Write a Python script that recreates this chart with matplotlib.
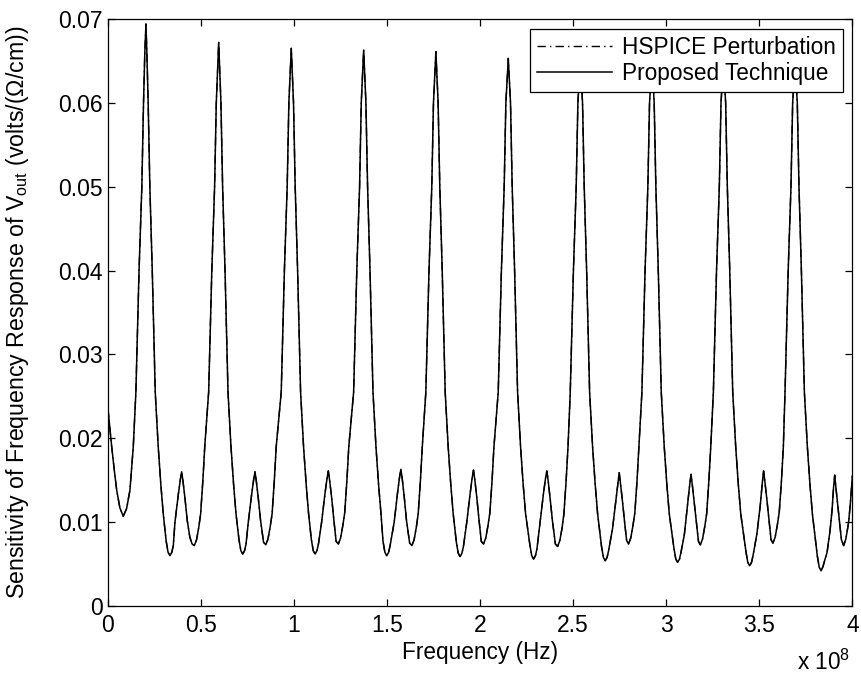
#!/usr/bin/env python3
"""
Sensitivity of frequency response of V_out: HSPICE perturbation vs proposed technique.
Values read off the published figure (frequency in units of 1e8 Hz).
"""
import matplotlib
matplotlib.use("Agg")
import matplotlib.pyplot as plt
from matplotlib.ticker import FuncFormatter, MultipleLocator
import numpy as np

plt.rcParams.update({
    "font.family": ["Liberation Sans", "DejaVu Sans"],
    "mathtext.fontset": "custom",
    "mathtext.rm": "Liberation Sans",
    "font.size": 16.3,
})

# frequency (x 1e8 Hz), sensitivity (volts/(ohm/cm))
freq_e8 = [
    0.000, 0.010, 0.020, 0.035, 0.047, 0.064, 0.082, 0.100, 0.118, 0.136,
    # peak 1
    0.150, 0.167, 0.182, 0.191, 0.198, 0.204, 0.209, 0.216, 0.225, 0.238, 0.254,
    0.270, 0.284, 0.297, 0.313, 0.323, 0.333, 0.343, 0.351, 0.360, 0.378, 0.389,
    0.396, 0.403, 0.414, 0.426, 0.440, 0.452, 0.464, 0.476, 0.488, 0.498, 0.510, 0.520,
    # peak 2
    0.541, 0.558, 0.573, 0.582, 0.595, 0.607, 0.616, 0.629, 0.645,
    0.661, 0.675, 0.688, 0.704, 0.714, 0.724, 0.734, 0.742, 0.754, 0.772, 0.783,
    0.790, 0.797, 0.808, 0.820, 0.836, 0.848, 0.860, 0.872, 0.882, 0.894, 0.904,
    # peak 3
    0.931, 0.948, 0.963, 0.972, 0.985, 0.997, 1.006, 1.019, 1.035,
    1.051, 1.065, 1.078, 1.093, 1.103, 1.113, 1.123, 1.131, 1.148, 1.166, 1.177,
    1.184, 1.191, 1.202, 1.214, 1.226, 1.238, 1.250, 1.262, 1.272, 1.284, 1.294,
    # peak 4
    1.320, 1.337, 1.352, 1.361, 1.374, 1.386, 1.395, 1.408, 1.424,
    1.440, 1.454, 1.467, 1.478, 1.488, 1.498, 1.508, 1.516, 1.538, 1.556, 1.567,
    1.574, 1.581, 1.592, 1.604, 1.621, 1.633, 1.645, 1.657, 1.667, 1.679, 1.689,
    # peak 5
    1.708, 1.725, 1.740, 1.749, 1.762, 1.774, 1.783, 1.796, 1.812,
    1.828, 1.842, 1.855, 1.872, 1.882, 1.892, 1.902, 1.910, 1.928, 1.946, 1.957,
    1.964, 1.971, 1.982, 1.994, 2.006, 2.018, 2.030, 2.042, 2.052, 2.064, 2.074,
    # peak 6
    2.097, 2.114, 2.129, 2.138, 2.151, 2.163, 2.172, 2.185, 2.201,
    2.217, 2.231, 2.244, 2.267, 2.277, 2.287, 2.297, 2.305, 2.322, 2.340, 2.351,
    2.358, 2.365, 2.376, 2.388, 2.404, 2.416, 2.428, 2.440, 2.450, 2.462, 2.472,
    # peak 7
    2.484, 2.501, 2.516, 2.525, 2.538, 2.550, 2.559, 2.572, 2.588,
    2.604, 2.618, 2.631, 2.652, 2.662, 2.672, 2.682, 2.690, 2.711, 2.729, 2.740,
    2.747, 2.754, 2.765, 2.777, 2.787, 2.797, 2.809, 2.821, 2.831, 2.843, 2.853,
    # peak 8
    2.869, 2.886, 2.901, 2.910, 2.923, 2.935, 2.944, 2.957, 2.973,
    2.989, 3.003, 3.016, 3.041, 3.051, 3.061, 3.071, 3.079, 3.097, 3.115, 3.126,
    3.133, 3.140, 3.151, 3.163, 3.173, 3.183, 3.195, 3.207, 3.217, 3.229, 3.239,
    # peak 9
    3.253, 3.270, 3.285, 3.294, 3.307, 3.319, 3.328, 3.341, 3.357,
    3.373, 3.387, 3.400, 3.428, 3.438, 3.448, 3.458, 3.466, 3.487, 3.505, 3.516,
    3.523, 3.530, 3.541, 3.553, 3.563, 3.573, 3.585, 3.597, 3.607, 3.619, 3.629,
    # peak 10
    3.638, 3.655, 3.670, 3.679, 3.692, 3.704, 3.713, 3.726, 3.742,
    3.758, 3.772, 3.785, 3.812, 3.822, 3.832, 3.842, 3.852, 3.864, 3.880, 3.891,
    3.899, 3.905, 3.912, 3.926, 3.941, 3.953, 3.965, 3.980, 3.990, 4.000,
]

sens_proposed = [
    0.0235, 0.0212, 0.0190, 0.0160, 0.0138, 0.0117, 0.0107, 0.0116, 0.0138, 0.0190,
    0.0255, 0.0400, 0.0500, 0.0600, 0.0660, 0.0694, 0.0660, 0.0600, 0.0500, 0.0400, 0.0255,
    0.0190, 0.0145, 0.0110, 0.0077, 0.0064, 0.0060, 0.0064, 0.0072, 0.0100, 0.0133, 0.0151,
    0.0160, 0.0149, 0.0128, 0.0102, 0.0082, 0.0074, 0.0072, 0.0079, 0.0094, 0.0110, 0.0150, 0.0190,
    0.0255, 0.0400, 0.0500, 0.0600, 0.0672, 0.0600, 0.0500, 0.0400, 0.0255,
    0.0190, 0.0145, 0.0110, 0.0079, 0.0066, 0.0062, 0.0066, 0.0074, 0.0100, 0.0133, 0.0151,
    0.0160, 0.0149, 0.0128, 0.0102, 0.0076, 0.0073, 0.0080, 0.0095, 0.0110, 0.0150, 0.0190,
    0.0255, 0.0400, 0.0500, 0.0600, 0.0665, 0.0600, 0.0500, 0.0400, 0.0255,
    0.0190, 0.0145, 0.0110, 0.0079, 0.0066, 0.0062, 0.0066, 0.0074, 0.0100, 0.0134, 0.0152,
    0.0161, 0.0150, 0.0129, 0.0102, 0.0077, 0.0074, 0.0081, 0.0096, 0.0111, 0.0150, 0.0190,
    0.0255, 0.0400, 0.0500, 0.0600, 0.0663, 0.0600, 0.0500, 0.0400, 0.0255,
    0.0190, 0.0145, 0.0110, 0.0077, 0.0064, 0.0060, 0.0064, 0.0072, 0.0100, 0.0135, 0.0154,
    0.0163, 0.0152, 0.0130, 0.0102, 0.0075, 0.0072, 0.0079, 0.0094, 0.0110, 0.0150, 0.0190,
    0.0255, 0.0400, 0.0500, 0.0600, 0.0661, 0.0600, 0.0500, 0.0400, 0.0255,
    0.0190, 0.0145, 0.0110, 0.0076, 0.0063, 0.0059, 0.0063, 0.0071, 0.0100, 0.0134, 0.0153,
    0.0162, 0.0151, 0.0129, 0.0102, 0.0077, 0.0074, 0.0081, 0.0096, 0.0111, 0.0150, 0.0190,
    0.0255, 0.0400, 0.0500, 0.0600, 0.0653, 0.0600, 0.0500, 0.0400, 0.0255,
    0.0190, 0.0145, 0.0110, 0.0073, 0.0060, 0.0056, 0.0060, 0.0068, 0.0100, 0.0134, 0.0152,
    0.0161, 0.0150, 0.0128, 0.0102, 0.0074, 0.0071, 0.0078, 0.0093, 0.0110, 0.0150, 0.0190,
    0.0255, 0.0400, 0.0500, 0.0600, 0.0650, 0.0600, 0.0500, 0.0400, 0.0255,
    0.0190, 0.0145, 0.0110, 0.0071, 0.0058, 0.0054, 0.0058, 0.0066, 0.0092, 0.0125, 0.0146,
    0.0159, 0.0146, 0.0124, 0.0098, 0.0078, 0.0074, 0.0081, 0.0096, 0.0111, 0.0150, 0.0190,
    0.0255, 0.0400, 0.0500, 0.0600, 0.0648, 0.0600, 0.0500, 0.0400, 0.0255,
    0.0190, 0.0145, 0.0110, 0.0069, 0.0056, 0.0052, 0.0056, 0.0064, 0.0085, 0.0122, 0.0145,
    0.0157, 0.0144, 0.0122, 0.0098, 0.0077, 0.0073, 0.0080, 0.0095, 0.0110, 0.0150, 0.0190,
    0.0255, 0.0400, 0.0500, 0.0600, 0.0646, 0.0600, 0.0500, 0.0400, 0.0255,
    0.0190, 0.0145, 0.0110, 0.0065, 0.0052, 0.0048, 0.0052, 0.0060, 0.0086, 0.0120, 0.0147,
    0.0161, 0.0148, 0.0126, 0.0100, 0.0079, 0.0075, 0.0082, 0.0097, 0.0112, 0.0150, 0.0190,
    0.0255, 0.0400, 0.0500, 0.0600, 0.0645, 0.0600, 0.0500, 0.0400, 0.0255,
    0.0190, 0.0145, 0.0110, 0.0059, 0.0046, 0.0042, 0.0047, 0.0055, 0.0064, 0.0090, 0.0115,
    0.0142, 0.0156, 0.0140, 0.0110, 0.0079, 0.0072, 0.0080, 0.0100, 0.0125, 0.0155,
]

# HSPICE perturbation lies on top of the proposed curve everywhere
sens_hspice = list(sens_proposed)

x_hz = np.array(freq_e8) * 1e8

fig = plt.figure(figsize=(8.61, 6.78), dpi=100)
ax = fig.add_axes([0.1254, 0.1062, 0.8646, 0.8658])

ax.plot(x_hz, sens_hspice, color="k", lw=1.0, ls=(0, (6, 3, 1, 3)),
        label="HSPICE Perturbation")
ax.plot(x_hz, sens_proposed, color="k", lw=1.1, label="Proposed Technique")

ax.set_xlim(0, 4e8)
ax.set_ylim(0, 0.07)
ax.xaxis.set_major_locator(MultipleLocator(0.5e8))
ax.yaxis.set_major_locator(MultipleLocator(0.01))
ax.xaxis.set_major_formatter(FuncFormatter(lambda v, p: f"{v / 1e8:g}"))
ax.yaxis.set_major_formatter(FuncFormatter(lambda v, p: f"{round(v, 3):g}"))
ax.tick_params(direction="in", top=True, right=True, length=5, width=0.9,
               labelsize=16.5)
ax.tick_params(axis="x", pad=6)
ax.tick_params(axis="y", pad=4)
for s in ax.spines.values():
    s.set_linewidth(0.9)

ax.set_xlabel("Frequency (Hz)", fontsize=16.3, labelpad=3)
ax.set_ylabel(r"Sensitivity of Frequency Response of V$_\mathregular{out}$ (volts/(Ω/cm))",
              fontsize=16.7)
ax.yaxis.set_label_coords(-0.104, 0.5)

fig.text(0.987, 0.004, r"x 10$^\mathregular{8}$", ha="right", va="bottom", fontsize=16.3)

leg = ax.legend(loc="upper right", bbox_to_anchor=(0.987, 0.983), fontsize=16.3,
                frameon=True, fancybox=False, edgecolor="black", framealpha=1,
                handlelength=3.3, handletextpad=0.45, labelspacing=0.15,
                borderpad=0.3, borderaxespad=0)
leg.get_frame().set_linewidth(0.9)

fig.savefig("out.png", dpi=100)
